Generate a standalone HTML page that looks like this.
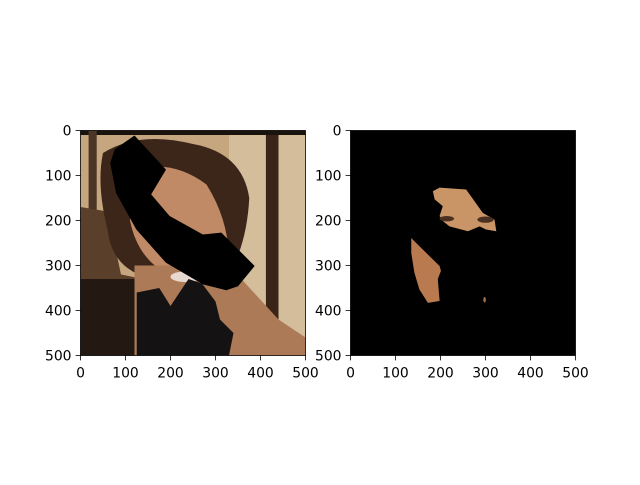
<!DOCTYPE html>
<html><head><meta charset="utf-8"><style>
html,body{margin:0;padding:0;background:#fff;}
svg text{font-family:"DejaVu Sans","Liberation Sans",sans-serif;font-size:13.9px;fill:#000;}
</style></head><body>
<svg id="fig" width="640" height="480" viewBox="0 0 640 480">
<rect width="640" height="480" fill="#fff"/>
<defs>
<clipPath id="c1"><rect x="0" y="0" width="500" height="500"/></clipPath>
</defs>
<g transform="translate(80.5,130.5) scale(0.45)" clip-path="url(#c1)">
<rect width="500" height="500" fill="#c6a67f"/>
<rect x="330" y="0" width="170" height="500" fill="#d4bd9b"/>
<rect x="412" y="10" width="28" height="440" fill="#3a2418"/>
<rect x="0" y="0" width="500" height="10" fill="#1a120c"/>
<rect x="18" y="0" width="18" height="200" fill="#4a3526"/>
<path d="M0,170 L60,180 L90,320 L140,330 L140,500 L0,500Z" fill="#5a3f2a"/>
<path d="M0,330 L140,330 L150,500 L0,500Z" fill="#241812"/>
<path d="M50,50 Q130,0 250,30 Q360,50 375,150 Q370,250 330,320 L160,330 Q70,310 60,220 Q35,120 50,50Z" fill="#3b2619"/>
<path d="M110,90 Q200,60 280,120 Q330,200 330,290 Q300,340 220,330 Q130,300 110,200Z" fill="#c08a66"/>
<path d="M120,300 L330,300 L440,420 L500,460 L500,500 L120,500Z" fill="#ad7a57"/>
<ellipse cx="235" cy="325" rx="35" ry="12" fill="#e8d8d0"/>
<path d="M125,360 L175,350 L200,390 L240,330 L270,340 L300,380 L310,420 L340,450 L330,500 L125,500Z" fill="#141212"/>
<path d="M76,42 L120,11 L190,87 L157,142 L198,190 L272,231 L313,227 L387,301 L350,346 L324,355 L272,342 L190,294 L124,220 L79,139 L66,72Z" fill="#000"/>
</g>
<g transform="translate(350.5,130.5) scale(0.45)" clip-path="url(#c1)">
<rect width="500" height="500" fill="#000"/>
<path d="M183,135 L198,127 L257,131 L294,183 L320,198 L324,224 L301,220 L287,213 L261,224 L220,213 L205,201 L198,190 L205,168 L187,153Z" fill="#c99567"/>
<ellipse cx="214" cy="196" rx="16" ry="6" fill="#4a3020"/>
<ellipse cx="300" cy="198" rx="18" ry="7" fill="#4a3020"/>
<path d="M135,239 L153,257 L198,301 L201,312 L194,330 L198,379 L172,383 L153,353 L142,316 L135,272Z" fill="#b87a4e"/>
<ellipse cx="298" cy="376" rx="3" ry="6" fill="#a06a45"/>
</g>
</svg>
<script>
const ticks=[0,100,200,300,400,500];
const panels=[{x:80.5,name:'left'},{x:350.5,name:'right'}];
const axTop=130.5,size=225;
const NS='http://www.w3.org/2000/svg';
const svg=document.getElementById('fig');
function mk(t,a){const e=document.createElementNS(NS,t);for(const k in a)e.setAttribute(k,a[k]);svg.appendChild(e);return e;}
panels.forEach(p=>{
  const fr=mk('rect',{x:p.x,y:axTop,width:size,height:size,fill:'none',stroke:'#000','stroke-width':0.8});
  
  
  ticks.forEach(t=>{
    const px=p.x+t/500*size, py=axTop+t/500*size;
    const a=mk('line',{x1:px,x2:px,y1:axTop+size,y2:axTop+size+4.9,stroke:'#000','stroke-width':0.8});
    
    
    const b=mk('line',{x1:p.x-4.9,x2:p.x,y1:py,y2:py,stroke:'#000','stroke-width':0.8});
    
    
    const tx=mk('text',{x:px,y:axTop+size+22,'text-anchor':'middle'});tx.textContent=t;
    
    
    const ty=mk('text',{x:p.x-9,y:py+5,'text-anchor':'end'});ty.textContent=t;
    
    
  });
});
</script>
</body></html>
